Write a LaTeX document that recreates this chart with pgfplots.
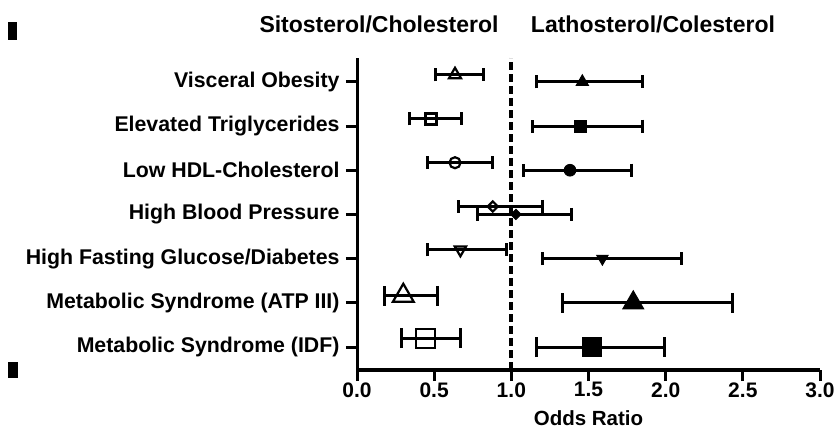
\documentclass[border=0pt]{standalone}
\usepackage{pgfplots}
\pgfplotsset{compat=1.18}
\usepackage{fontspec}
\setmainfont{Liberation Sans}
\newcommand\fs[1]{\fontsize{#1}{#1}\selectfont\bfseries}
\begin{document}
\begin{tikzpicture}
\useasboundingbox (0bp,0bp) rectangle (838bp,437bp);
\fill (8bp,397bp) rectangle (17bp,415bp);
\fill (8bp,59bp) rectangle (18bp,75bp);
\node[font=\fs{23bp}] at (379bp,413bp) {Sitosterol/Cholesterol};
\node[font=\fs{23bp}] at (653bp,413bp) {Lathosterol/Colesterol};
\begin{axis}[
  at={(357bp,67bp)}, anchor=south west,
  width=463bp, height=312bp, scale only axis,
  xmin=0, xmax=3, ymin=0.48, ymax=7.54,
  clip=false,
  axis x line*=bottom, axis y line*=left,
  axis line style={line width=3bp, -},
  tick align=outside,
  major tick length=11bp,
  tick style={line width=3bp, black},
  xtick={0,0.5,1,1.5,2,2.5,3},
  xticklabel style={font=\fs{21bp}, yshift=2bp, /pgf/number format/.cd, fixed, fixed zerofill, precision=1, assume math mode=true},
  ytick={1,2,3,4,5,6,7},
  yticklabels={Metabolic Syndrome (IDF), Metabolic Syndrome (ATP III), High Fasting Glucose/Diabetes, High Blood Pressure, Low HDL-Cholesterol, Elevated Triglycerides, Visceral Obesity},
  yticklabel style={font=\fs{21.3bp}, xshift=-3bp},
  xlabel={Odds Ratio},
  xlabel style={font=\fs{20.5bp}, at={(rel axis cs:0.5,0)}, anchor=center, yshift=-48bp},
  eb/.style={only marks, black, error bars/x dir=both, error bars/x explicit,
     error bars/error mark=|,
     error bars/error bar style={line width=3bp, black, solid},
     error bars/error mark options={line width=3bp, mark size=#1, black, solid, rotate=0}},
  eb/.default=6.5bp,
  om/.style={mark options={fill=white, line width=2.2bp, solid}},
  fm/.style={mark options={fill=black, line width=1bp, solid}},
]
% dashed reference line at OR = 1
\addplot[black, line width=4bp, dash pattern=on 8bp off 4bp] coordinates {(1,0.48) (1,7.54)};
% Sitosterol/Cholesterol (open markers)
\addplot[eb, mark=triangle, mark size=7bp, om] coordinates {(0.635,7.16) += (0.185,0) -= (0.125,0)};
\addplot[eb, mark=square, mark size=5.5bp, om] coordinates {(0.48,6.16) += (0.20,0) -= (0.14,0)};
\addplot[eb, mark=o, mark size=5.5bp, om] coordinates {(0.635,5.17) += (0.245,0) -= (0.175,0)};
\addplot[eb, mark=square, mark size=3.6bp, om, every mark/.append style={rotate=45}] coordinates {(0.88,4.18) += (0.32,0) -= (0.22,0)};
\addplot[eb, mark=triangle, mark size=6.5bp, om, every mark/.append style={rotate=180}] coordinates {(0.67,3.2) += (0.30,0) -= (0.21,0)};
\addplot[eb=10bp, mark=triangle, mark size=12bp, om] coordinates {(0.30,2.16) += (0.22,0) -= (0.12,0)};
\addplot[eb=10bp, mark=square, mark size=9.5bp, om] coordinates {(0.445,1.2) += (0.225,0) -= (0.155,0)};
% Lathosterol/Cholesterol (filled markers)
\addplot[eb, mark=triangle*, mark size=7bp, fm] coordinates {(1.46,7) += (0.39,0) -= (0.30,0)};
\addplot[eb, mark=square*, mark size=6bp, fm] coordinates {(1.45,6) += (0.40,0) -= (0.31,0)};
\addplot[eb, mark=*, mark size=5.8bp, fm] coordinates {(1.38,5) += (0.40,0) -= (0.30,0)};
\addplot[eb, mark=square*, mark size=3.6bp, fm, every mark/.append style={rotate=45}] coordinates {(1.03,4) += (0.36,0) -= (0.25,0)};
\addplot[eb, mark=triangle*, mark size=6.5bp, fm, every mark/.append style={rotate=180}] coordinates {(1.59,3) += (0.51,0) -= (0.39,0)};
\addplot[eb=10bp, mark=triangle*, mark size=12bp, fm] coordinates {(1.79,2) += (0.64,0) -= (0.46,0)};
\addplot[eb=10bp, mark=square*, mark size=9.5bp, fm] coordinates {(1.52,1) += (0.47,0) -= (0.36,0)};
\end{axis}
\end{tikzpicture}
\end{document}
